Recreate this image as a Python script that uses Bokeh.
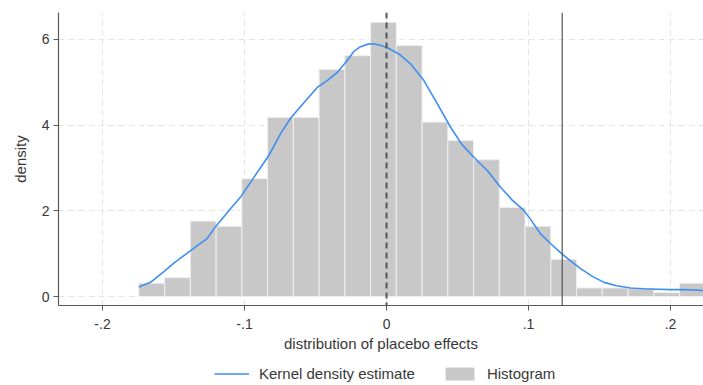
from bokeh.plotting import figure
from bokeh.layouts import column
from bokeh.models import Range1d, Span, Legend, LegendItem, FixedTicker
from bokeh.embed import file_html
from bokeh.resources import INLINE

# ---- data ----
bin_start = -0.1744
bin_width = 0.01813
hist_density = [0.31, 0.44, 1.76, 1.64, 2.75, 4.18, 4.18, 5.30, 5.62, 6.40, 5.86,
                4.07, 3.64, 3.19, 2.08, 1.64, 0.87, 0.20, 0.20, 0.18, 0.09, 0.31]

kde_x = [-0.1744, -0.1662, -0.1568, -0.1498, -0.1380, -0.1264, -0.1204, -0.1099,
         -0.1028, -0.0934, -0.0829, -0.0746, -0.0676, -0.0582, -0.0488, -0.0418,
         -0.0347, -0.0277, -0.0230, -0.0183, -0.0130, -0.0089, -0.0040, 0.0010,
         0.0087, 0.0169, 0.0263, 0.0357, 0.0451, 0.0530, 0.0615, 0.0709, 0.0803,
         0.0885, 0.0967, 0.1014, 0.1085, 0.1160, 0.1237, 0.1300, 0.1366, 0.1450,
         0.1531, 0.1620, 0.1718, 0.1810, 0.1906, 0.2000, 0.2094, 0.2170, 0.2232]
kde_y = [0.22, 0.33, 0.58, 0.78, 1.07, 1.35, 1.63, 2.05, 2.32, 2.78, 3.29, 3.80,
         4.16, 4.52, 4.88, 5.04, 5.23, 5.51, 5.72, 5.83, 5.89, 5.90, 5.86, 5.80,
         5.66, 5.43, 5.04, 4.50, 3.95, 3.55, 3.25, 2.94, 2.55, 2.25, 2.01, 1.80,
         1.46, 1.22, 0.99, 0.82, 0.65, 0.47, 0.33, 0.25, 0.20, 0.18, 0.17, 0.16,
         0.16, 0.15, 0.14]

ref_zero = 0.0
actual_effect = 0.1237

x_ticks = [-0.2, -0.1, 0.0, 0.1, 0.2]
x_tick_labels = ["-.2", "-.1", "0", ".1", ".2"]
y_ticks = [0, 2, 4, 6]
y_tick_labels = ["0", "2", "4", "6"]

x_title = "distribution of placebo effects"
y_title = "density"
legend_labels = ["Kernel density estimate", "Histogram"]

# ---- style ----
FONT = "Liberation Sans"
TXT = "#383838"
AX = "#5a5a5a"
BAR = "#c8c8c8"
KDE = "#3d8ef0"

W = 703
H_MAIN = 357
H_LEG = 28

p = figure(width=W, height=H_MAIN, output_backend="svg", toolbar_location=None,
           x_range=Range1d(-0.231, 0.2232), y_range=Range1d(-0.21, 6.628))
p.min_border_left = 58
p.min_border_right = 0
p.min_border_top = 12
p.min_border_bottom = 52
p.outline_line_color = None
p.background_fill_color = "white"

lefts = [bin_start + i * bin_width for i in range(len(hist_density))]
rights = [l + bin_width for l in lefts]
bars = p.quad(left=lefts, right=rights, bottom=0, top=hist_density,
              fill_color=BAR, line_color="#efefef", line_width=1)

kde = p.line(kde_x, kde_y, line_color=KDE, line_width=1.6)

p.add_layout(Span(location=ref_zero, dimension="height", line_color="#555555",
                  line_width=2, line_dash="6 4"))
p.add_layout(Span(location=actual_effect, dimension="height", line_color="#555555",
                  line_width=1.2))

for g in (p.xgrid, p.ygrid):
    g.grid_line_color = "#e4e4e4"
    g.grid_line_dash = "6 4"
    g.grid_line_width = 1
p.xgrid.ticker = FixedTicker(ticks=x_ticks)
p.ygrid.ticker = FixedTicker(ticks=y_ticks)

p.xaxis.ticker = FixedTicker(ticks=x_ticks)
p.xaxis.major_label_overrides = {t: s for t, s in zip(x_ticks, x_tick_labels)}
p.yaxis.ticker = FixedTicker(ticks=y_ticks)
p.yaxis.major_label_overrides = {t: s for t, s in zip(y_ticks, y_tick_labels)}
p.xaxis.axis_label = x_title
p.yaxis.axis_label = y_title
for ax in (p.xaxis, p.yaxis):
    ax.axis_line_color = AX
    ax.axis_line_width = 1.2
    ax.major_tick_line_color = AX
    ax.major_tick_out = 5
    ax.major_tick_in = 0
    ax.minor_tick_line_color = None
    ax.major_label_text_font = FONT
    ax.major_label_text_font_size = "14px"
    ax.major_label_text_color = TXT
    ax.axis_label_text_font = FONT
    ax.axis_label_text_font_size = "15px"
    ax.axis_label_text_font_style = "normal"
    ax.axis_label_text_color = TXT
p.xaxis.major_label_standoff = 8
p.xaxis.axis_label_standoff = 3
p.yaxis.major_label_standoff = 4
p.yaxis.major_label_orientation = "horizontal"
p.yaxis.axis_label_standoff = 10

# ---- legend strip underneath (key glyphs only, kept outside its view) ----
q = figure(width=W, height=H_LEG, output_backend="svg", toolbar_location=None,
           x_range=Range1d(0, 1), y_range=Range1d(0, 1),
           x_axis_location=None, y_axis_location=None)
q.min_border_left = 0
q.min_border_right = 0
q.min_border_top = 0
q.min_border_bottom = 0
q.outline_line_color = None
q.grid.visible = False
leg_line = q.line(x=[-2, -1], y=[-2, -1], line_color=KDE, line_width=1.6)
leg_box = q.quad(left=[-2], right=[-1], bottom=[-2], top=[-1], fill_color=BAR,
                 line_color=BAR)

legend = Legend(items=[LegendItem(label=legend_labels[0], renderers=[leg_line]),
                       LegendItem(label=legend_labels[1], renderers=[leg_box])],
                orientation="horizontal", location=(156, 3),
                label_text_font=FONT, label_text_font_size="15px",
                label_text_color=TXT, glyph_width=35, glyph_height=15,
                label_height=15, label_standoff=10, spacing=27,
                border_line_color=None, background_fill_alpha=0,
                padding=2, margin=0)
q.add_layout(legend)

layout = column(p, q, spacing=0)
open("out.html", "w").write(file_html(layout, INLINE))
